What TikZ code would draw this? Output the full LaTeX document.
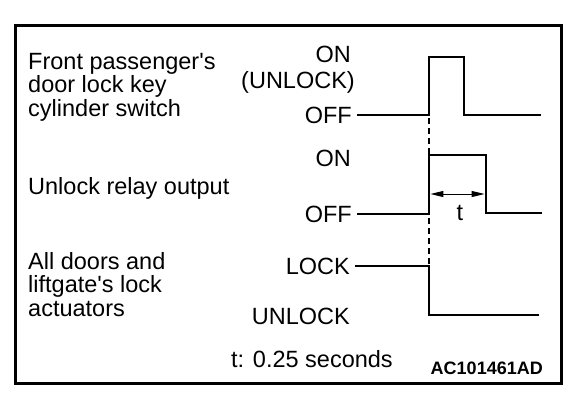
\documentclass[tikz,border=0pt]{standalone}
\usepackage{fontspec}
\setmainfont{Liberation Sans}
\usetikzlibrary{arrows.meta, positioning}

\begin{document}
\begin{tikzpicture}[
  x=1pt, y=-1pt,
  every node/.style={inner sep=0pt, font=\fontsize{23.5}{23.5}\selectfont},
  signal/.style={anchor=base west, align=left},
  level/.style={anchor=base east},
  wave/.style={line width=2.7pt},
  dim/.style={{Triangle[length=13pt,width=6pt]}-{Triangle[length=13pt,width=6pt]}, line width=1pt}
]
  \useasboundingbox (0,0) rectangle (576,400);
  \draw[line width=3pt] (15,25) rectangle (561,383);

  % signal names (base = last line)
  \node (key)   [signal] at (28,116) {Front passenger\textquotesingle s\\door lock key\\cylinder switch};
  \node (relay) [signal] at (28,194) {Unlock relay output};
  \node (act)   [signal] at (28,316) {All doors and\\liftgate\textquotesingle s lock\\actuators};

  % levels
  \node (on1)  [level] at (351,62)  {ON};
  \node (unl1) [level] at (355,88)  {(UNLOCK)};
  \node (off1) [level] at (352,123) {OFF};
  \node (on2)  [level] at (351,166) {ON};
  \node (off2) [level] at (352,222) {OFF};
  \node (lock) [level] at (350,274) {LOCK};
  \node (unl2) [level] at (350,324) {UNLOCK};

  % pulse corners
  \coordinate (a1) at (429,57);
  \coordinate (a2) at (464,57);
  \coordinate (b1) at (429,155);
  \coordinate (b2) at (486,155);
  \coordinate (c1) at (429,315);
  \coordinate (tl) at (430.4,194);
  \coordinate (tr) at (484.6,194);

  \draw[line width=1.6pt, dash pattern=on 6pt off 4pt] (429,118) -- (429,264);

  \draw[wave] ([xshift=5pt]off1.east) -| (a1) -- (a2) |- (541,115);
  \draw[wave] ([xshift=5pt]off2.east) -| (b1) -- (b2) |- (542,213);
  \draw[wave] ([xshift=5pt]lock.east) -| (c1) -- (539,315);

  \draw[dim] (tl) -- (tr);
  \node (t) [anchor=base] at (460,220) {t};

  \node (note) [anchor=base west] at (231,367) {t: 0.25 seconds};
  \node (code) [anchor=base east, font=\fontsize{18}{20}\selectfont\bfseries] at (543,374) {AC101461AD};
\end{tikzpicture}
\end{document}
